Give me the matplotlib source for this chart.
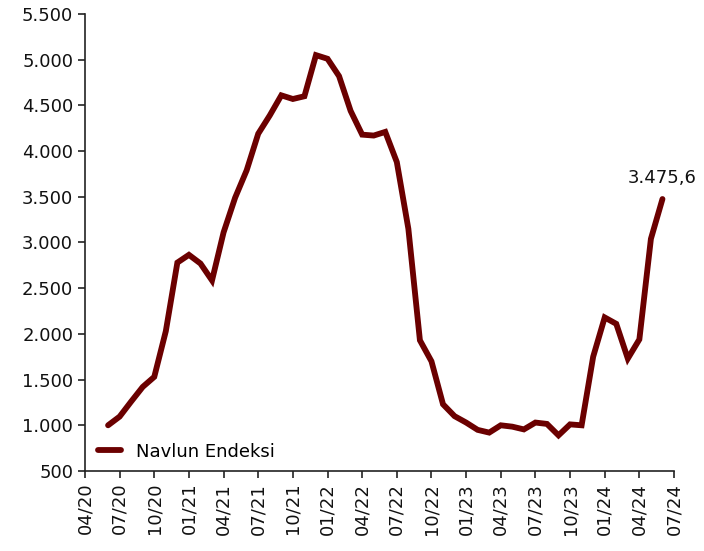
import numpy as np
import matplotlib
matplotlib.use("Agg")
import matplotlib.pyplot as plt
from matplotlib.ticker import FuncFormatter, FixedLocator

# months counted from 04/2020 (index 0); data runs 06/2020 .. 06/2024
start_month = 2
navlun = [
    1000, 1095, 1260, 1420, 1530, 2030, 2780, 2865, 2770, 2585,   # 06/20 - 03/21
    3110, 3490, 3790, 4190, 4390, 4610, 4570, 4600, 5050, 5010,   # 04/21 - 01/22
    4820, 4440, 4180, 4170, 4210, 3880, 3150, 1930, 1700, 1230,   # 02/22 - 11/22
    1100, 1030, 950, 920, 1000, 985, 955, 1030, 1015, 890,        # 12/22 - 09/23
    1010, 1000, 1750, 2180, 2110, 1730, 1940, 3040, 3475.6,       # 10/23 - 06/24
]
tick_months = list(range(0, 52, 3))
series_name = "Navlun Endeksi"

LINE_COLOR = "#6b0000"


def tr_thousands(v, pos=None):
    return f"{v:,.0f}".replace(",", ".")


def month_label(i):
    m = (3 + i) % 12 + 1
    y = 20 + (3 + i) // 12
    return f"{m:02d}/{y:02d}"


x = np.arange(start_month, start_month + len(navlun))

fig = plt.figure(figsize=(7.04, 5.51), dpi=100)
ax = fig.add_axes([0.1207, 0.1452, 0.8367, 0.8294])

ax.plot(x, navlun, color=LINE_COLOR, linewidth=4.2, solid_capstyle="round",
        solid_joinstyle="miter", label=series_name)

ax.set_xlim(0, 51)
ax.set_ylim(500, 5500)
ax.set_yticks(np.arange(500, 5501, 500))
ax.yaxis.set_major_formatter(FuncFormatter(tr_thousands))
ax.xaxis.set_major_locator(FixedLocator(tick_months))
ax.set_xticklabels([month_label(i) for i in tick_months], rotation=90)

for side in ("top", "right"):
    ax.spines[side].set_visible(False)
for side in ("left", "bottom"):
    ax.spines[side].set_linewidth(1.2)
    ax.spines[side].set_color("#222222")

ax.tick_params(axis="both", direction="out", length=5, width=1.2,
               labelsize=13, colors="#222222", labelcolor="#111111")

last_val = navlun[-1]
last_txt = f"{last_val:,.1f}".replace(",", "X").replace(".", ",").replace("X", ".")
ax.annotate(last_txt, (x[-1], last_val), xytext=(0, 9), textcoords="offset points",
            ha="center", va="bottom", fontsize=13, color="#111111")

ax.legend(loc="lower left", bbox_to_anchor=(0.0, -0.005), frameon=False,
          fontsize=13, handlelength=1.3, handletextpad=0.8, borderaxespad=0.3)

fig.savefig("out.png", dpi=100)
